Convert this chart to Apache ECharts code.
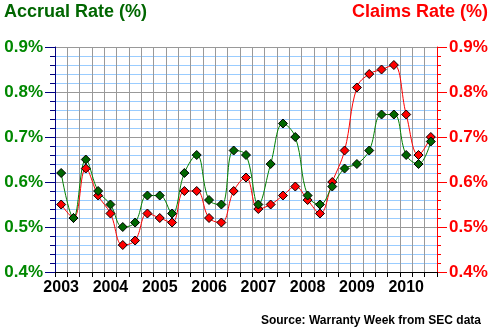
<!DOCTYPE html>
<html>
<head>
<meta charset="utf-8">
<script src="https://cdn.jsdelivr.net/npm/echarts@6/dist/echarts.min.js"></script>
<style>
  html, body { margin: 0; padding: 0; background: #fff; }
  #chart { width: 493px; height: 333px; }
</style>
</head>
<body>
<div id="chart"></div>
<script>
// Quarterly warranty rates, Q1 2003 through Q3 2010
var years = ['2003', '2004', '2005', '2006', '2007', '2008', '2009', '2010'];
var quarters = ['Q1', 'Q2', 'Q3', 'Q4'];
var categories = [];
years.forEach(function (y) {
  quarters.forEach(function (q) { categories.push(y + ' ' + q); });
});
categories = categories.slice(0, 31);

var accrualRate = [0.62, 0.52, 0.65, 0.58, 0.55, 0.50, 0.51, 0.57,
                   0.57, 0.53, 0.62, 0.66, 0.56, 0.55, 0.67, 0.66,
                   0.55, 0.64, 0.73, 0.70, 0.57, 0.55, 0.59, 0.63,
                   0.64, 0.67, 0.75, 0.75, 0.66, 0.64, 0.69];
var claimsRate  = [0.55, 0.52, 0.63, 0.57, 0.53, 0.46, 0.47, 0.53,
                   0.52, 0.51, 0.58, 0.58, 0.52, 0.51, 0.58, 0.61,
                   0.54, 0.55, 0.57, 0.59, 0.56, 0.53, 0.60, 0.67,
                   0.81, 0.84, 0.85, 0.86, 0.75, 0.66, 0.70];

var FONT = '"Liberation Sans", Arial, sans-serif';
var pct = function (v) { return v.toFixed(1) + '%'; };

var chart = echarts.init(document.getElementById('chart'), null, { renderer: 'canvas' });
chart.setOption({
  animation: false,
  backgroundColor: '#ffffff',
  graphic: [
    { type: 'text', left: 4, top: 3,
      style: { text: 'Accrual Rate (%)', fill: '#006600', font: 'bold 18px ' + FONT } },
    { type: 'text', right: 5, top: 3,
      style: { text: 'Claims Rate (%)', fill: '#ff0000', font: 'bold 18px ' + FONT } },
    { type: 'text', right: 12, top: 315,
      style: { text: 'Source: Warranty Week from SEC data', fill: '#000000', font: 'bold 12px ' + FONT } }
  ],
  grid: { left: 55, right: 56, top: 47, bottom: 61, containLabel: false },
  xAxis: {
    type: 'category',
    data: categories,
    boundaryGap: true,
    axisLine: { show: true, lineStyle: { color: '#000000', width: 1 } },
    axisTick: { show: true, interval: 0, length: 5, lineStyle: { color: '#000000' } },
    axisLabel: {
      interval: function (i) { return i % 4 === 0; },
      formatter: function (v) { return v.split(' ')[0]; },
      color: '#000000', fontFamily: FONT, fontWeight: 'bold', fontSize: 16, margin: 8
    },
    splitLine: { show: true, interval: 0, lineStyle: { color: '#999999', width: 1 } }
  },
  yAxis: [
    {
      type: 'value', min: 0.4, max: 0.9, interval: 0.1, position: 'left',
      axisLine: { show: true, lineStyle: { color: '#000080', width: 1 } },
      axisTick: { show: true, length: 10, lineStyle: { color: '#000080' } },
      minorTick: { show: true, splitNumber: 5, length: 5, lineStyle: { color: '#000080' } },
      axisLabel: { formatter: pct, color: '#008800', fontFamily: FONT, fontWeight: 'bold', fontSize: 17, margin: 12 },
      splitLine: { show: true, lineStyle: { color: '#999999', width: 1 } },
      minorSplitLine: { show: true, lineStyle: { color: '#99ccff', width: 1 } }
    },
    {
      type: 'value', min: 0.4, max: 0.9, interval: 0.1, position: 'right',
      axisLine: { show: true, lineStyle: { color: '#ff0000', width: 1 } },
      axisTick: { show: true, length: 10, lineStyle: { color: '#ff0000' } },
      minorTick: { show: true, splitNumber: 5, length: 4, lineStyle: { color: '#ff0000' } },
      axisLabel: { formatter: pct, color: '#ff0000', fontFamily: FONT, fontWeight: 'bold', fontSize: 17, margin: 12 },
      splitLine: { show: false },
      minorSplitLine: { show: false }
    }
  ],
  series: [
    {
      name: 'Claims Rate', type: 'line', yAxisIndex: 1, data: claimsRate,
      smooth: 0.4, showAllSymbol: true, symbol: 'diamond', symbolSize: 9,
      lineStyle: { color: '#ff0000', width: 1 },
      itemStyle: { color: '#ff0000', borderColor: '#000000', borderWidth: 1 }
    },
    {
      name: 'Accrual Rate', type: 'line', yAxisIndex: 0, data: accrualRate,
      smooth: 0.4, showAllSymbol: true, symbol: 'diamond', symbolSize: 9,
      lineStyle: { color: '#008000', width: 1 },
      itemStyle: { color: '#006600', borderColor: '#000000', borderWidth: 1 }
    }
  ]
});
</script>
</body>
</html>
